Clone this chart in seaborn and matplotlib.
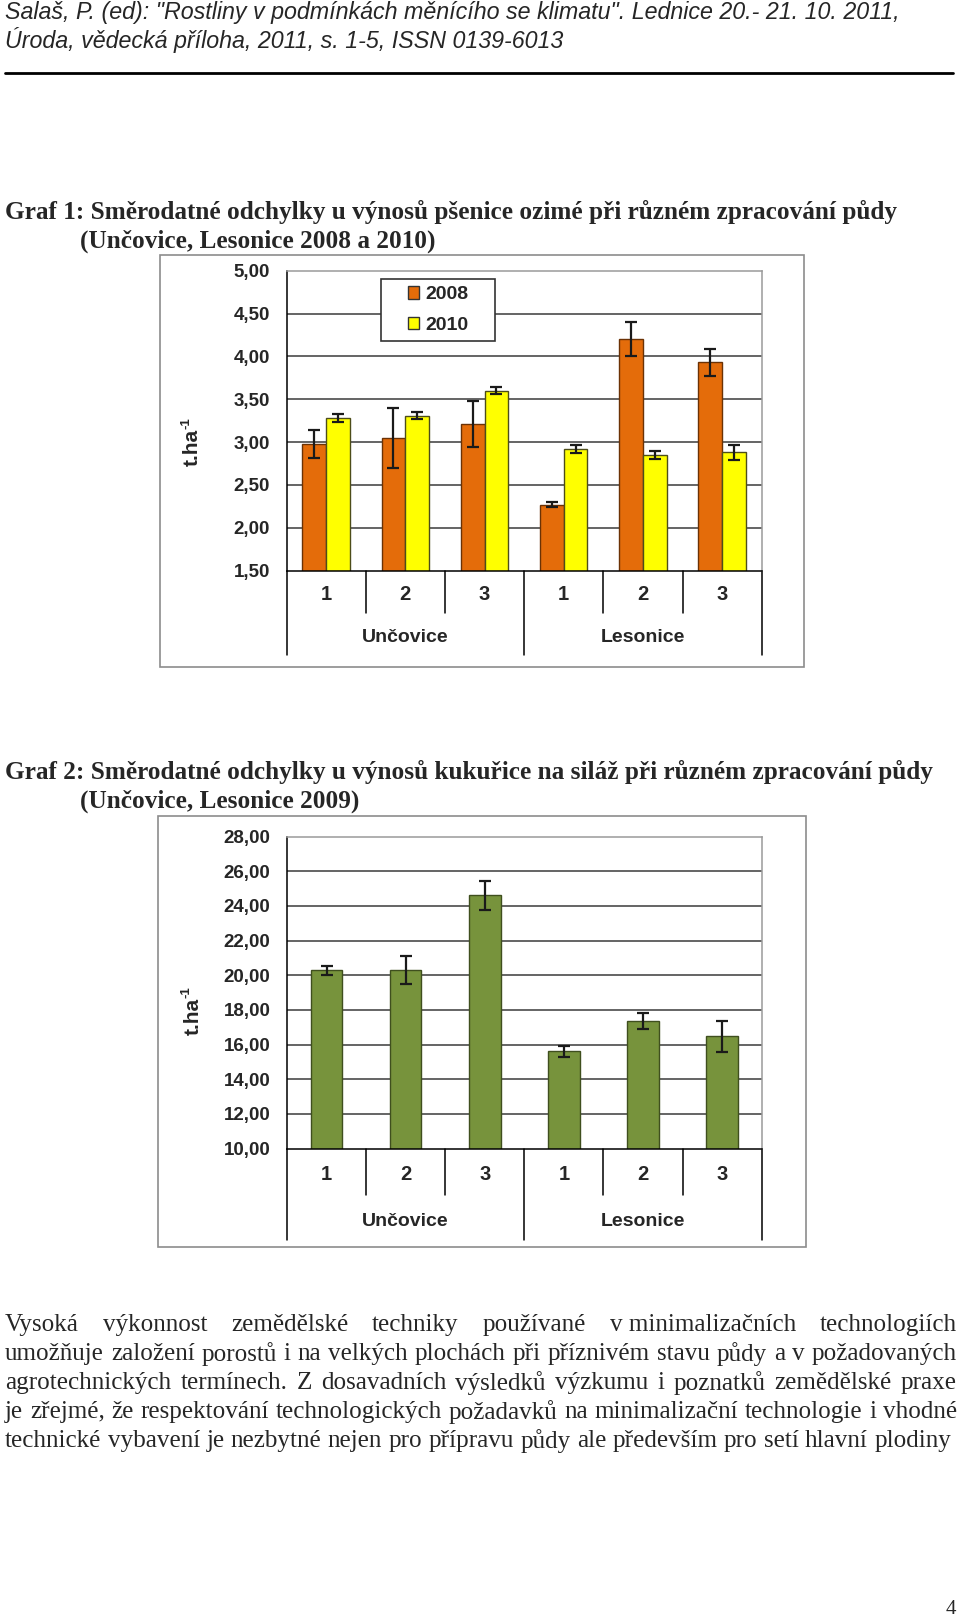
import numpy as np
import pandas as pd
import matplotlib
matplotlib.use("Agg")
import matplotlib.pyplot as plt
import matplotlib.transforms as mtransforms
from matplotlib.patches import Rectangle
import seaborn as sns

# ==============================
# DATA
# ==============================
sites = ["Unčovice", "Lesonice"]
treatments = ["1", "2", "3"]
years = ["2008", "2010"]

# Graf 1 - psenice ozima (t/ha)
wheat_2008 = [2.98, 3.05, 3.21, 2.27, 4.20, 3.93]
wheat_2008_sd = [0.16, 0.35, 0.27, 0.03, 0.20, 0.16]
wheat_2010 = [3.28, 3.31, 3.60, 2.92, 2.85, 2.88]
wheat_2010_sd = [0.05, 0.04, 0.04, 0.05, 0.05, 0.09]

# Graf 2 - kukurice na silaz 2009 (t/ha)
maize_2009 = [20.28, 20.30, 24.62, 15.60, 17.38, 16.48]
maize_2009_sd = [0.26, 0.80, 0.85, 0.30, 0.46, 0.90]

wheat_ticks = [1.5, 2.0, 2.5, 3.0, 3.5, 4.0, 4.5, 5.0]
maize_ticks = [10, 12, 14, 16, 18, 20, 22, 24, 26, 28]

header = ['Salaš, P. (ed): "Rostliny v podmínkách měnícího se klimatu". Lednice 20.- 21. 10. 2011,',
          "Úroda, vědecká příloha, 2011, s. 1-5, ISSN 0139-6013"]
title1 = ["Graf 1: Směrodatné odchylky u výnosů pšenice ozimé při různém zpracování půdy",
          "(Unčovice, Lesonice 2008 a 2010)"]
title2 = ["Graf 2: Směrodatné odchylky u výnosů kukuřice na siláž při různém zpracování půdy",
          "(Unčovice, Lesonice 2009)"]
paragraph = [
    ["Vysoká", "výkonnost", "zemědělské", "techniky", "používané", "v minimalizačních", "technologiích"],
    "umožňuje založení porostů i na velkých plochách při příznivém stavu půdy a v požadovaných".split(),
    "agrotechnických termínech. Z dosavadních výsledků výzkumu i poznatků zemědělské praxe".split(),
    "je zřejmé, že respektování technologických požadavků na minimalizační technologie i vhodné".split(),
    "technické vybavení je nezbytné nejen pro přípravu půdy ale především pro setí hlavní plodiny".split(),
]

keys = [s + " " + t for s in sites for t in treatments]
df1 = pd.DataFrame({
    "key": keys * 2,
    "year": [years[0]] * 6 + [years[1]] * 6,
    "value": wheat_2008 + wheat_2010,
})
df2 = pd.DataFrame({"key": keys, "value": maize_2009})

# ==============================
# STYLE
# ==============================
sns.set_style("white")
plt.rcParams["font.family"] = ["Liberation Sans", "DejaVu Sans"]

ORANGE = "#E46C0A"
YELLOW = "#FFFF00"
GREEN = "#77933C"
SERIF = ["Liberation Serif", "DejaVu Serif"]
SANS = ["Liberation Sans", "DejaVu Sans"]

W, H = 960, 1620
fig = plt.figure(figsize=(W / 100, H / 100), dpi=100)
page = fig.add_axes([0, 0, 1, 1], zorder=0)
page.set_xlim(0, W)
page.set_ylim(H, 0)
page.axis("off")
renderer = fig.canvas.get_renderer()


def px_rect(l, t, r, b):
    return [l / W, 1 - b / H, (r - l) / W, (b - t) / H]


def text_width(t):
    return t.get_window_extent(renderer).width


def fit_size(s, width, **kw):
    t = page.text(0, 0, s, fontsize=20, **kw)
    w = text_width(t)
    t.remove()
    return 20 * width / w


def justify(words, x0, x1, y, size, **kw):
    texts = [page.text(0, y, w, fontsize=size, va="center", **kw) for w in words]
    widths = [text_width(t) for t in texts]
    gap = (x1 - x0 - sum(widths)) / (len(words) - 1)
    x = x0
    for t, w in zip(texts, widths):
        t.set_x(x)
        x += w + gap


def unit_label(x, y):
    # rotated "t.ha" with a small "-1" superscript
    t = page.text(x, y, "t.ha", rotation=90, fontsize=15, fontweight="bold",
                  ha="center", va="center")
    top = H - t.get_window_extent(renderer).y1
    page.text(x - 6, top + 1, "-1", rotation=90, fontsize=9.5, fontweight="bold",
              ha="center", va="bottom")


# ==============================
# PAGE TEXT
# ==============================
hsize = fit_size(header[0], 896, family=SANS, style="italic")
page.text(5, 13, header[0], fontsize=hsize, family=SANS, style="italic", va="center")
page.text(5, 40, header[1], fontsize=hsize, family=SANS, style="italic", va="center")
page.plot([5, 953], [73, 73], color="black", lw=2)

tsize = fit_size(title1[0], 891, family=SERIF, weight="bold")
page.text(5, 212, title1[0], fontsize=tsize, family=SERIF, weight="bold", va="center")
page.text(80, 241, title1[1], fontsize=tsize, family=SERIF, weight="bold", va="center")
page.text(5, 772, title2[0], fontsize=tsize, family=SERIF, weight="bold", va="center")
page.text(80, 801, title2[1], fontsize=tsize, family=SERIF, weight="bold", va="center")

psize = fit_size(" ".join(paragraph[-1]), 945, family=SERIF)
for i, words in enumerate(paragraph):
    x1 = 951 if i == len(paragraph) - 1 else 957
    justify(words, 5, x1, 1325 + i * 29, psize, family=SERIF)

page.text(951, 1609, "4", fontsize=15, family=SERIF, ha="center", va="center")

# chart frames
page.add_patch(Rectangle((159.5, 255), 644.5, 412, fill=False, edgecolor="#8c8c8c", lw=1.2))
page.add_patch(Rectangle((158, 816), 648, 431, fill=False, edgecolor="#8c8c8c", lw=1.2))


# ==============================
# CHART HELPERS
# ==============================
def style_axis(ax, ticks, bottom, sep_long, sep_short, lab_y, grp_y):
    ax.set_ylim(ticks[0], ticks[-1])
    ax.set_yticks(ticks)
    ax.set_yticklabels([f"{v:.2f}".replace(".", ",") for v in ticks],
                       fontsize=13.5, fontweight="bold")
    ax.tick_params(axis="y", direction="out", length=5, width=1, color="black", pad=7)
    ax.set_xticks(range(len(keys)))
    ax.set_xticklabels([])
    ax.tick_params(axis="x", length=0)
    ax.set_xlabel("")
    ax.set_ylabel("")
    for v in ticks[1:-1]:
        ax.axhline(v, color="#3a3a3a", lw=1.1, zorder=0.5)
    for side in ["left", "bottom"]:
        ax.spines[side].set_color("black")
        ax.spines[side].set_linewidth(1.1)
    for side in ["top", "right"]:
        ax.spines[side].set_visible(True)
        ax.spines[side].set_color("#9a9a9a")
        ax.spines[side].set_linewidth(1.1)

    trans = mtransforms.blended_transform_factory(ax.transData, page.transData)
    for i in range(len(keys) + 1):
        x = i - 0.5
        end = sep_long if i % 3 == 0 else sep_short
        ax.plot([x, x], [bottom, end], transform=trans, clip_on=False,
                color="black", lw=1.1, scalex=False, scaley=False)
    for i, k in enumerate(keys):
        ax.text(i, lab_y, k.split()[-1], transform=trans, ha="center", va="center",
                fontsize=14.5, fontweight="bold")
    for j, s in enumerate(sites):
        ax.text(3 * j + 1, grp_y, s, transform=trans, ha="center", va="center",
                fontsize=14, fontweight="bold")
    ax.set_xlim(-0.5, len(keys) - 0.5)


def add_errors(ax, container, sds):
    for bar, sd in zip(container, sds):
        x = bar.get_x() + bar.get_width() / 2
        ax.errorbar(x, bar.get_height(), yerr=sd, fmt="none", ecolor="#1a1a1a",
                    elinewidth=1.6, capsize=4, capthick=1.6, zorder=4)


# ==============================
# GRAF 1
# ==============================
ax1 = fig.add_axes(px_rect(286.5, 270.8, 761.7, 570.6), zorder=1)
sns.barplot(data=df1, x="key", y="value", hue="year", order=keys, hue_order=years,
            palette=[ORANGE, YELLOW], saturation=1, width=0.6, errorbar=None,
            linewidth=1, ax=ax1)
edge_cols = ["#6b3205", "#4d4d1a"]
for cont, ec, sds in zip(ax1.containers, edge_cols, [wheat_2008_sd, wheat_2010_sd]):
    for bar in cont:
        bar.set_edgecolor(ec)
        bar.set_zorder(2)
    add_errors(ax1, cont, sds)
style_axis(ax1, wheat_ticks, 570.6, 655, 612.7, 595, 637.6)

ax1.add_patch(Rectangle((381, 279), 114, 62, transform=page.transData, facecolor="white",
                        edgecolor="#333333", lw=1.2, zorder=4, clip_on=False))
sns.move_legend(ax1, "center", bbox_to_anchor=(438 / W, 1 - 310 / H),
                bbox_transform=fig.transFigure, title=None, frameon=False,
                prop={"weight": "bold", "size": 14}, handlelength=0.6,
                handleheight=0.6, handletextpad=0.3, labelspacing=0.7)
for h in ax1.get_legend().legend_handles:
    h.set_edgecolor("#333333")
    h.set_linewidth(1)
ax1.get_legend().set_zorder(5)

unit_label(192, 447)

# ==============================
# GRAF 2
# ==============================
ax2 = fig.add_axes(px_rect(287, 836.7, 761.7, 1148.5), zorder=1)
sns.barplot(data=df2, x="key", y="value", order=keys, color=GREEN, saturation=1,
            width=0.4, errorbar=None, linewidth=1, edgecolor="#3f4f1e", ax=ax2)
for bar in ax2.containers[0]:
    bar.set_zorder(2)
add_errors(ax2, ax2.containers[0], maize_2009_sd)
style_axis(ax2, maize_ticks, 1148.5, 1240, 1195, 1175, 1221.5)

unit_label(193, 1016)

fig.savefig("out.png", dpi=100)
